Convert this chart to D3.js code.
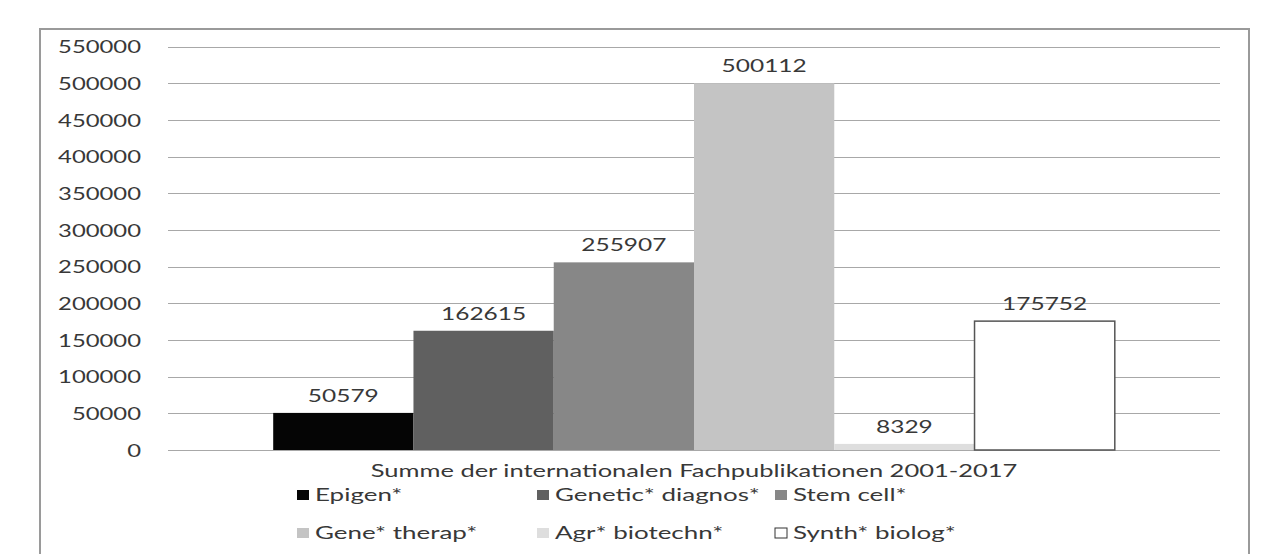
<!DOCTYPE html>
<html>
<head>
<meta charset="utf-8">
<script src="https://cdn.jsdelivr.net/npm/d3@7"></script>
<style>
  body { margin: 0; background: #fff; }
  svg { display: block; }
  text { font-family: Lato, "Open Sans", sans-serif; font-size: 18px; fill: #383838; }
</style>
</head>
<body>
<div id="chart"></div>
<script>
const width = 1266;
const height = 554;

// data
const category = "Summe der internationalen Fachpublikationen 2001-2017";
const seriesNames = ["Epigen*", "Genetic* diagnos*", "Stem cell*", "Gene* therap*", "Agr* biotechn*", "Synth* biolog*"];
const seriesValues = [50579, 162615, 255907, 500112, 8329, 175752];
const seriesColors = ["#050505", "#606060", "#878787", "#c4c4c4", "#dedede", "#ffffff"];
const yTicks = [0, 50000, 100000, 150000, 200000, 250000, 300000, 350000, 400000, 450000, 500000, 550000];

const plot = { left: 168, right: 1220, top: 46.7, bottom: 450 };

const svg = d3.select("#chart")
  .append("svg")
  .attr("width", width)
  .attr("height", height);

// the source picture is stretched horizontally: work out the factor per text group
function stretchFor(sample, target) {
  const probe = svg.append("text").text(sample);
  const w = probe.node().getComputedTextLength();
  probe.remove();
  return target / w;
}

const stretchTitle = stretchFor(category, 647);
const stretchTicks = stretchFor("550000", 83);
const stretchValues = stretchFor("50579", 71);
const stretchLegend = stretchFor("Genetic* diagnos*", 205);

function stretchedText(parent, x, y, str, sx, anchor = "start") {
  return parent.append("g")
    .attr("transform", `translate(${x},${y}) scale(${sx},1)`)
    .append("text")
    .attr("text-anchor", anchor)
    .text(str);
}

// outer frame
svg.append("rect")
  .attr("x", 40)
  .attr("y", 29)
  .attr("width", 1209)
  .attr("height", 700)
  .attr("fill", "none")
  .attr("stroke", "#9a9a9a")
  .attr("stroke-width", 2);

const y = d3.scaleLinear()
  .domain([0, 550000])
  .range([plot.bottom, plot.top]);

const x0 = d3.scaleBand()
  .domain([category])
  .range([plot.left, plot.right])
  .paddingOuter(0.125);

const x1 = d3.scaleBand()
  .domain(seriesNames)
  .range([0, x0.bandwidth()])
  .padding(0);

// gridlines
svg.append("g")
  .selectAll("line")
  .data(yTicks)
  .join("line")
  .attr("x1", plot.left)
  .attr("x2", plot.right)
  .attr("y1", d => Math.round(y(d)) + 0.5)
  .attr("y2", d => Math.round(y(d)) + 0.5)
  .attr("stroke", "#a8a8a8")
  .attr("stroke-width", 1);

// y labels
const yLabels = svg.append("g");
yTicks.forEach(t => {
  stretchedText(yLabels, 141, y(t) + 6.5, String(t), stretchTicks, "end");
});

// bars
const bars = svg.append("g");
seriesNames.forEach((name, i) => {
  const bx = x0(category) + x1(name);
  const v = seriesValues[i];
  bars.append("rect")
    .attr("x", bx)
    .attr("y", y(v))
    .attr("width", x1.bandwidth())
    .attr("height", y(0) - y(v))
    .attr("fill", seriesColors[i])
    .attr("stroke", name === "Synth* biolog*" ? "#555" : "none")
    .attr("stroke-width", 1.5);
});

// value labels
const valueLabels = svg.append("g");
seriesNames.forEach((name, i) => {
  const cx = x0(category) + x1(name) + x1.bandwidth() / 2;
  stretchedText(valueLabels, cx, y(seriesValues[i]) - 11, String(seriesValues[i]), stretchValues, "middle");
});

// axis title
stretchedText(svg, x0(category) + x0.bandwidth() / 2, 477, category, stretchTitle, "middle");

// legend
const legendCols = [297, 537, 775];
const legendRows = [501, 539];
const legend = svg.append("g");
seriesNames.forEach((name, i) => {
  const lx = legendCols[i % 3];
  const ly = legendRows[Math.floor(i / 3)];
  legend.append("rect")
    .attr("x", lx)
    .attr("y", ly - 11)
    .attr("width", 12)
    .attr("height", 10)
    .attr("fill", seriesColors[i])
    .attr("stroke", name === "Synth* biolog*" ? "#333" : "none")
    .attr("stroke-width", 1);
  stretchedText(legend, lx + 18, ly, name, stretchLegend);
});
</script>
</body>
</html>
